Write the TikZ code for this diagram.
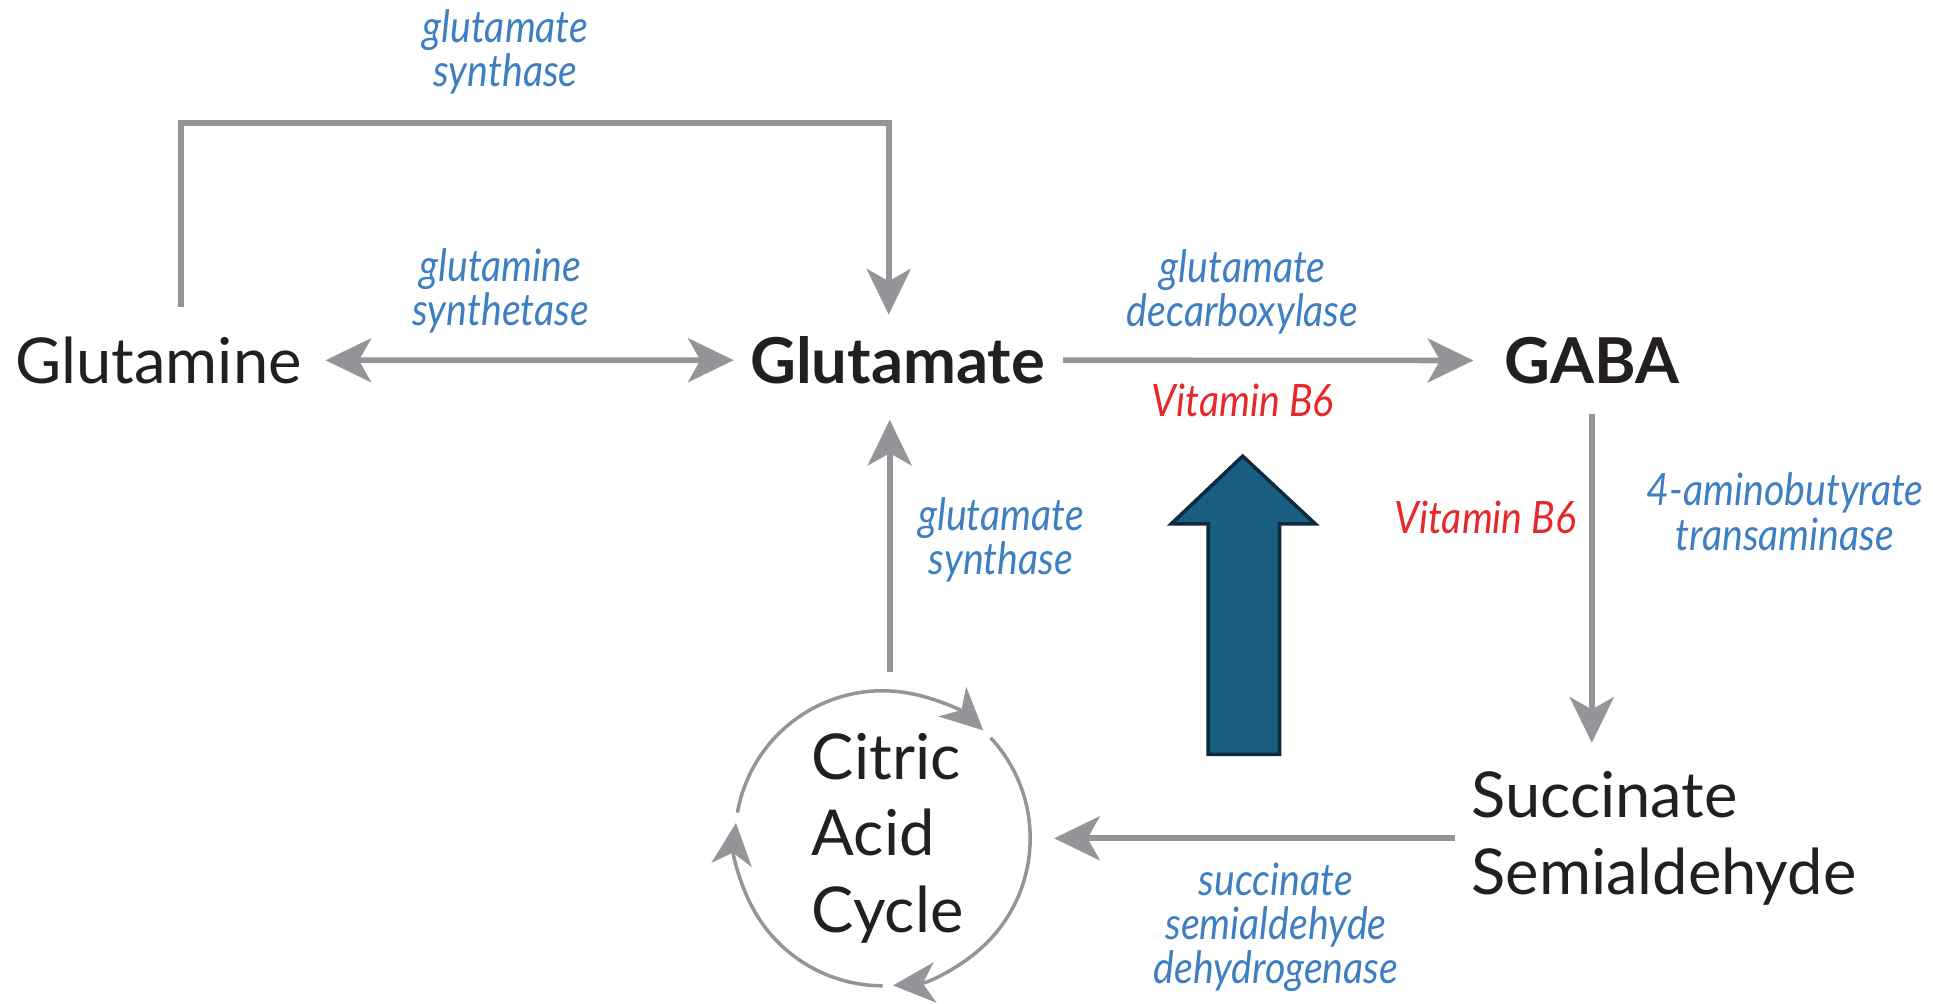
\documentclass[tikz,border=0pt]{standalone}
\usepackage{fontspec}
\setmainfont{Lato}
\newfontfamily\enzfont[FakeStretch=0.88]{Lato Italic}
\usetikzlibrary{arrows.meta}

\definecolor{pathgray}{HTML}{939598}
\definecolor{enzblue}{HTML}{3D7FC1}
\definecolor{vitred}{HTML}{E5292B}
\definecolor{molblack}{HTML}{231F20}
\definecolor{bigfill}{HTML}{175E80}
\definecolor{bigline}{HTML}{0E2A3C}

\begin{document}
\begin{tikzpicture}[x=0.012328cm, y=-0.012328cm]
  \tikzset{molstyle/.style={inner sep=0pt, text=molblack, font=\fontsize{18}{21.7}\selectfont},
    enzstyle/.style={inner sep=0pt, align=center, text=enzblue, font=\enzfont\fontsize{12.7}{12.6}\selectfont},
    vitstyle/.style={enzstyle, text=vitred},
    graytip/.tip={Stealth[length=13pt, width=12.5pt, inset=3.5pt]},
    flow/.style={draw=pathgray, line width=1.6pt, -graytip},
    cyclearc/.style={draw=pathgray, line width=1pt, -{Stealth[length=12pt, width=11.5pt, inset=3.5pt]}},
    bigarrow/.style={fill=bigfill, draw=bigline, line width=1pt, line join=miter}}
  \useasboundingbox (0,0) rectangle (1568,814.4);
  % molecules
  \node[molstyle, anchor=base west] (glutamine) at (12,311) {Glutamine};
  \node[molstyle, anchor=base west, font=\bfseries\fontsize{18}{21.7}\selectfont] (glutamate) at (608,311) {Glutamate};
  \node[molstyle, anchor=base west, font=\bfseries\fontsize{18}{21.7}\selectfont] (gaba) at (1220,311) {GABA};
  \node[molstyle, anchor=west, align=left] (succinate) at (1193,680) {Succinate\\Semialdehyde};
  \node[circle, minimum size=2.95cm, inner sep=0pt] (ring) at (716,680) {};
  \node[molstyle, anchor=west, align=left] (citric) at (658,680) {Citric\\Acid\\Cycle};
  % enzymes and cofactors
  \node[enzstyle] (gsynthtop) at (410,42) {glutamate\\synthase};
  \node[enzstyle] (gsynthetase) at (406,236) {glutamine\\synthetase};
  \node[enzstyle] (gdecarb) at (1008,237) {glutamate\\decarboxylase};
  \node[vitstyle] (vitone) at (1008,325) {Vitamin B6};
  \node[enzstyle] (gsynthside) at (812,438) {glutamate\\synthase};
  \node[vitstyle] (vittwo) at (1205,420) {Vitamin B6};
  \node[enzstyle] (transam) at (1448,415) {4-aminobutyrate\\transaminase};
  \node[enzstyle] (ssadh) at (1035,752) {succinate\\semialdehyde\\dehydrogenase};
  % connectors
  \coordinate (topbar) at (0,100);
  \draw[flow, shorten <=8.4pt, shorten >=6pt] ([xshift=6.3pt]glutamine.north) |- ([xshift=-2.5pt]glutamate.north |- topbar) -- ([xshift=-2.5pt]glutamate.north);
  \draw[flow, graytip-graytip, shorten <=6.6pt, shorten >=4.5pt] (glutamine) -- (glutamate);
  \draw[flow, shorten <=5pt, shorten >=8.7pt] (glutamate) -- (gaba);
  \draw[flow, shorten <=8.4pt, shorten >=8pt] (gaba.south) -- (gaba.south |- succinate.north);
  \draw[flow, shorten <=4.5pt, shorten >=6.6pt] (succinate.west) -- (succinate.west -| ring.east);
  \draw[flow, shorten <=5.2pt, shorten >=10pt] ([xshift=2pt]ring.north) -- ([xshift=2pt]ring.north |- glutamate.south);
  % the cycle
  \draw[cyclearc] ([shift={(170:1.475cm)}]ring.center) arc[start angle=170, end angle=47, radius=1.475cm];
  \draw[cyclearc] ([shift={(43:1.475cm)}]ring.center) arc[start angle=43, end angle=-86, radius=1.475cm];
  \draw[cyclearc] ([shift={(-90:1.475cm)}]ring.center) arc[start angle=-90, end angle=-186, radius=1.475cm];
  % big arrow
  \draw[bigarrow] (980,612) -- (980,425) -- (950,425) -- (1008,370) -- (1067,425) -- (1038,425) -- (1038,612) -- cycle;
\end{tikzpicture}
\end{document}
